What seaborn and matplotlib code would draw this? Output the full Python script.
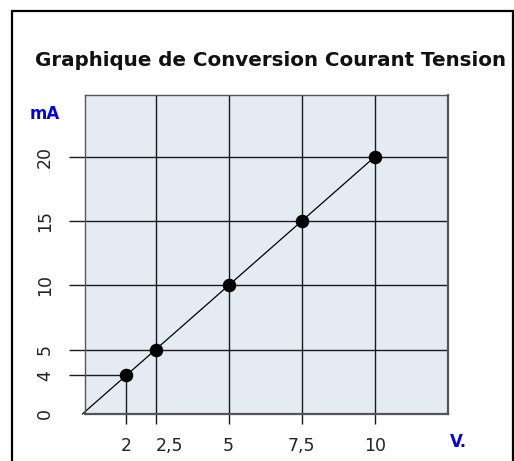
import matplotlib
matplotlib.use("Agg")
import matplotlib.pyplot as plt
import seaborn as sns
import pandas as pd
from matplotlib.patches import Rectangle

# --- data ---
volts = [1.5, 2.5, 5, 7.5, 10]
milliamps = [3.0, 5, 10, 15, 20]
x_labels = ["2", "2,5", "5", "7,5", "10"]
y_ticks = [0, 3.0, 5, 10, 15, 20]
y_labels = ["0", "4", "5", "10", "15", "20"]
title = "Graphique de Conversion Courant Tension"

# straight conversion line starts at the origin
line = pd.DataFrame({"V": [0] + volts, "mA": [0] + milliamps})
points = pd.DataFrame({"V": volts, "mA": milliamps})

sns.set_style("white")
plt.rcParams["font.family"] = ["DejaVu Sans"]

fig = plt.figure(figsize=(5.14, 4.61), dpi=100)
ax = fig.add_axes([0.166, 0.102, 0.7056, 0.692])
ax.set_facecolor("#e5ebf3")

ax.set_xlim(0.1, 12.5)
ax.set_ylim(0, 24.8)

# grid: full lines except the first point, which only gets leader lines
grid_kw = dict(color="#1a1a1a", lw=1.0, zorder=1)
for v in volts[1:]:
    ax.axvline(v, **grid_kw)
for m in milliamps[1:]:
    ax.axhline(m, **grid_kw)
ax.vlines(volts[0], 0, milliamps[0], **grid_kw)
ax.hlines(milliamps[0], 0.1, volts[0], **grid_kw)

sns.lineplot(data=line, x="V", y="mA", color="black", lw=0.9, ax=ax,
             zorder=2, clip_on=False)
sns.scatterplot(data=points, x="V", y="mA", color="black", s=95, ax=ax,
                zorder=3, linewidth=0)

ax.set_xticks(volts)
ax.set_xticklabels(x_labels, fontsize=12.5, color="#222222")
ax.set_yticks(y_ticks)
ax.set_yticklabels(y_labels, fontsize=12.5, color="#222222", rotation=90,
                   va="center")
ax.tick_params(axis="x", length=7.5, width=1, color="#1a1a1a", pad=9,
               direction="out", bottom=True)
ax.tick_params(axis="y", length=11.5, width=1, color="#1a1a1a", pad=11,
               direction="out", left=True)
ax.yaxis.get_major_ticks()[0].tick1line.set_visible(False)
ax.get_xticklabels()[1].set_ha("left")
ax.set_xlabel("")
ax.set_ylabel("")

for s in ax.spines.values():
    s.set_color("#555555")
    s.set_linewidth(1.0)
ax.spines["bottom"].set_linewidth(1.6)
ax.spines["right"].set_linewidth(1.6)

fig.text(0.068, 0.869, title, fontsize=14.3, fontweight="bold", ha="left",
         va="center", color="#111111")
fig.text(0.057, 0.753, "mA", fontsize=12, fontweight="bold", color="#0000ee",
         va="center")
fig.text(0.875, 0.041, "V.", fontsize=12, fontweight="bold", color="#0000ee",
         va="center")

fig.patches.append(Rectangle((0.0233, -0.02), 0.974, 0.996, transform=fig.transFigure,
                             fill=False, edgecolor="black", lw=1.6))

fig.savefig("out.png", dpi=100)
